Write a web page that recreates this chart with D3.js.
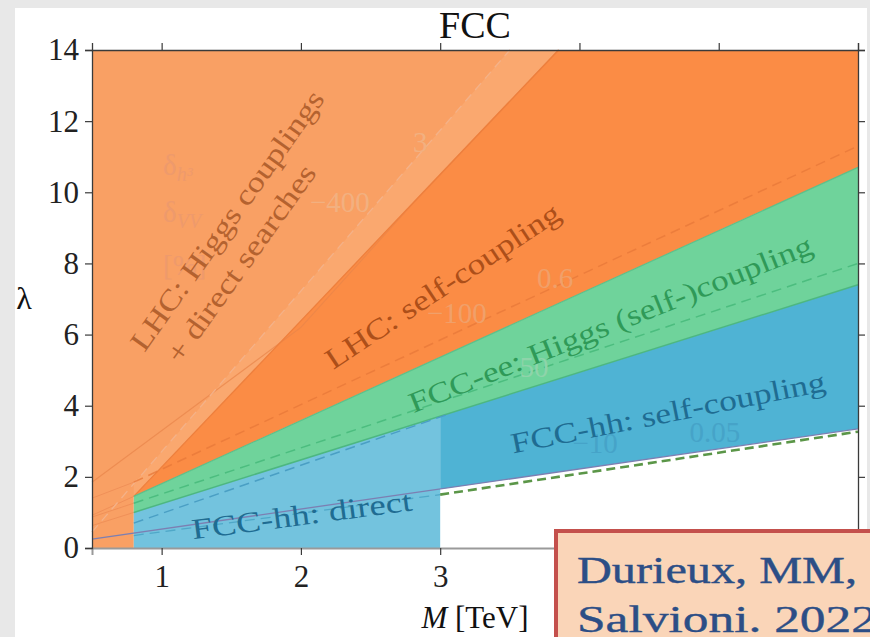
<!DOCTYPE html>
<html>
<head>
<meta charset="utf-8">
<script src="https://cdn.jsdelivr.net/npm/d3@7"></script>
<style>
  body { margin: 0; background: #e8e8e8; }
  svg { display: block; }
</style>
</head>
<body>
<svg width="870" height="637"></svg>
<script>
// axis ticks (labels 4-6 sit under the citation box in the original)
const xTicks = [1, 2, 3, 4, 5, 6];
const xTickLabels = [1, 2, 3];
const yTicks = [0, 2, 4, 6, 8, 10, 12, 14];

// region boundaries, [M (TeV), lambda]
const lhcSelfTop = [[0.8, 1.45], [3.85, 14]];
const lhcDashed = [[0.5, 0.45], [3.5, 14]];
const lhcSolid = [[0.5, 1.85], [2.0, 6.2], [2.8, 9.67], [3.85, 14]];
const eeTop = [[0.8, 1.45], [6, 10.7]];
const hhTop = [[0.8, 1.0], [6, 7.4]];
const eeDashed = [[0.8, 1.26], [6, 8.0]];
const lhcSelfDashed = [[0.8, 1.85], [6, 11.3]];
const hhDashed = [[0.8, 0.7], [3.05, 3.75]];
const directSolid = [[0.5, 0.25], [6, 3.35]];
const directDashed = [[0.8, 0.35], [3, 1.5]];
const hhSelfDashed = [[3, 1.5], [6, 3.27]];
const leftStubs = [
  [[0.5, 0.92], [0.8, 1.45]],
  [[0.5, 0.63], [0.8, 1.0]],
  [[0.5, 0.87], [0.8, 1.26]],
  [[0.5, 1.4], [0.8, 1.85]]
];

// filled regions
const lightOrange = [[0.5, 0], [0.5, 14], [3.85, 14], [0.8, 1.45], [0.8, 0]];
const lhcBand = [[0.8, 1.45], [0.8, 1.8], [3.5, 14], [3.85, 14]];
const darkOrange = [[0.8, 1.45], [3.85, 14], [6, 14], [6, 10.7]];
const green = [[0.8, 1.0], [0.8, 1.45], [6, 10.7], [6, 7.4]];
const lightBlue = [[0.8, 0], [0.8, 1.0], [3, 3.71], [3, 0]];
const darkBlue = [[3, 1.66], [3, 3.71], [6, 7.4], [6, 3.35]];

// region labels: text, centre M, centre lambda, angle, length
const labels = [
  { t: "LHC: Higgs couplings", m: 1.527, l: 9.05, a: -54.5, len: 312, c: "#b4622f" },
  { t: "+ direct searches", m: 1.627, l: 7.84, a: -54.5, len: 236, c: "#b4622f" },
  { t: "LHC: self-coupling", m: 3.056, l: 7.14, a: -33.5, len: 275, c: "#ad4f19" },
  { t: "FCC-ee: Higgs (self-)coupling", m: 4.248, l: 6.04, a: -21.8, len: 432, c: "#2f9a58" },
  { t: "FCC-hh: self-coupling", m: 4.65, l: 3.54, a: -11.3, len: 320, c: "#1f6c92" },
  { t: "FCC-hh: direct", m: 2.015, l: 0.65, a: -7.5, len: 222, c: "#1f6c92" }
];

// faint contour numbers
const contourLabels = [
  { t: "−400", m: 2.065, l: 9.45, c: "#f2b080" },
  { t: "3", m: 2.805, l: 11.13, c: "#f2b080" },
  { t: "−100", m: 2.905, l: 6.33, c: "#f0a06a" },
  { t: "0.6", m: 3.695, l: 7.31, c: "#f0a06a" },
  { t: "50", m: 3.57, l: 4.81, c: "#8ed4aa" },
  { t: "−10", m: 3.95, l: 2.67, c: "#46a3c8" },
  { t: "0.05", m: 4.79, l: 2.98, c: "#46a3c8" }
];

const citeLines = ["Durieux, MM,", "Salvioni. 2022"];
const citeLengths = [280, 300];

const svg = d3.select("svg");
const serif = "'Liberation Serif', serif";

// page background + white panel
svg.append("rect").attr("width", 870).attr("height", 637).attr("fill", "#e8e8e8");
svg.append("rect").attr("x", 15).attr("y", 8).attr("width", 852).attr("height", 629).attr("fill", "#ffffff");

const x = d3.scaleLinear().domain([0.5, 6]).range([92, 858]);
const y = d3.scaleLinear().domain([0, 14]).range([548, 50]);

const line = d3.line().x(d => x(d[0])).y(d => y(d[1]));
const poly = pts => line(pts) + "Z";

const g = svg.append("g");

// regions
g.append("path").attr("d", poly(lightOrange)).attr("fill", "#f9a064");
g.append("path").attr("d", poly(lhcBand)).attr("fill", "#faa86f");
g.append("path").attr("d", poly(darkOrange)).attr("fill", "#fb8c45");
g.append("path").attr("d", poly(green)).attr("fill", "#6fd39b");
g.append("path").attr("d", poly(lightBlue)).attr("fill", "#73c3de");
g.append("path").attr("d", poly(darkBlue)).attr("fill", "#4fb3d4");

// lines
function drawLine(pts, color, width, dash, op) {
  g.append("path")
    .attr("d", line(pts))
    .attr("fill", "none")
    .attr("stroke", color)
    .attr("stroke-width", width)
    .attr("stroke-dasharray", dash || null)
    .attr("opacity", op == null ? 1 : op);
}

leftStubs.forEach(s => drawLine(s, "#e98650", 1, null, 0.6));
drawLine(lhcSolid, "#e8844a", 1.1, null, 0.7);
drawLine(lhcDashed, "#f4b289", 1.3, "9,6");
drawLine(lhcSelfTop, "#ee7f3c", 1.3);
drawLine(lhcSelfDashed, "#e8793a", 1.5, "10,6", 0.8);
drawLine(eeTop, "#5cc08a", 1.2);
drawLine(eeDashed, "#4cbd7f", 1.5, "10,6");
drawLine(hhTop, "#4db780", 1.5);
drawLine(hhDashed, "#4a9fc4", 1.5, "10,6");
drawLine(directDashed, "#4fa8c8", 1.3, "10,6");
drawLine(directSolid, "#7c7fb2", 1.3);
drawLine(hhSelfDashed, "#5b9648", 2.6, "9,5");

// faint annotation texts
const faint = g.append("g").attr("font-family", serif).attr("font-size", 29);
faint.selectAll("text.num")
  .data(contourLabels)
  .join("text")
  .attr("class", "num")
  .attr("x", d => x(d.m))
  .attr("y", d => y(d.l))
  .attr("fill", d => d.c)
  .text(d => d.t);

const legendTexts = [["δ", "h³", 10.49], ["δ", "VV", 9.16], ["[%]", "", 7.67]];
legendTexts.forEach(([main, sub, lam]) => {
  const t = faint.append("text").attr("x", x(1.01)).attr("y", y(lam)).attr("fill", "#ee9a6c");
  t.append("tspan").text(main);
  if (sub) t.append("tspan").attr("font-size", 20).attr("dy", 6).attr("font-style", "italic").text(sub);
});

// region labels
g.selectAll("text.lab")
  .data(labels)
  .join("text")
  .attr("class", "lab")
  .attr("transform", d => `translate(${x(d.m)},${y(d.l)}) rotate(${d.a})`)
  .attr("text-anchor", "middle")
  .attr("font-family", serif)
  .attr("font-size", 29)
  .attr("fill", d => d.c)
  .attr("textLength", d => d.len)
  .attr("lengthAdjust", "spacingAndGlyphs")
  .text(d => d.t);

// axes
const fmt = d => xTickLabels.includes(d) ? d3.format("d")(d) : "";
const axB = svg.append("g").attr("transform", `translate(0,${y(0)})`)
  .call(d3.axisBottom(x).tickValues(xTicks).tickSize(7).tickFormat(fmt));
const axL = svg.append("g").attr("transform", `translate(${x(0.5)},0)`)
  .call(d3.axisLeft(y).tickValues(yTicks).tickSize(7).tickFormat(d3.format("d")));
const axT = svg.append("g").attr("transform", `translate(0,${y(14)})`)
  .call(d3.axisTop(x).tickValues(xTicks).tickSize(7).tickFormat(""));
const axR = svg.append("g").attr("transform", `translate(${x(6)},0)`)
  .call(d3.axisRight(y).tickValues(yTicks).tickSize(7).tickFormat(""));

[axB, axL, axT, axR].forEach(a => {
  a.selectAll("path").attr("stroke", "#3a3a3a").attr("stroke-width", 1.3);
  a.selectAll("line").attr("stroke", "#3a3a3a").attr("stroke-width", 1.2);
  a.selectAll("text").attr("font-family", serif).attr("font-size", 31).attr("fill", "#222");
});
axB.select("path").attr("stroke", "#9a9a9a").attr("stroke-width", 2);
axB.selectAll("text").attr("dy", "0.95em");
axL.selectAll("text").attr("dx", "-0.1em");

// title and axis labels
svg.append("text").attr("x", (x(0.5) + x(6)) / 2).attr("y", 38)
  .attr("text-anchor", "middle").attr("font-family", serif).attr("font-size", 38)
  .attr("fill", "#111").text("FCC");

const xl = svg.append("text").attr("x", (x(0.5) + x(6)) / 2).attr("y", 628)
  .attr("text-anchor", "middle").attr("font-family", serif).attr("font-size", 31).attr("fill", "#111");
xl.append("tspan").attr("font-style", "italic").text("M");
xl.append("tspan").text(" [TeV]");

svg.append("text").attr("x", 24).attr("y", y(7) + 10)
  .attr("text-anchor", "middle").attr("font-family", serif).attr("font-size", 32)
  .attr("fill", "#111").text("λ");

// citation box (runs off the right and bottom edges)
const cite = svg.append("g");
cite.append("rect").attr("x", 556).attr("y", 531).attr("width", 330).attr("height", 120)
  .attr("fill", "#fad5b8").attr("stroke", "#c4504c").attr("stroke-width", 4);
cite.selectAll("text")
  .data(citeLines)
  .join("text")
  .attr("x", 577)
  .attr("y", (d, i) => 583 + i * 49)
  .attr("font-family", serif)
  .attr("font-size", 38)
  .attr("fill", "#2c4e86")
  .attr("stroke", "#2c4e86")
  .attr("stroke-width", 0.4)
  .attr("textLength", (d, i) => citeLengths[i])
  .attr("lengthAdjust", "spacingAndGlyphs")
  .text(d => d);
</script>
</body>
</html>
